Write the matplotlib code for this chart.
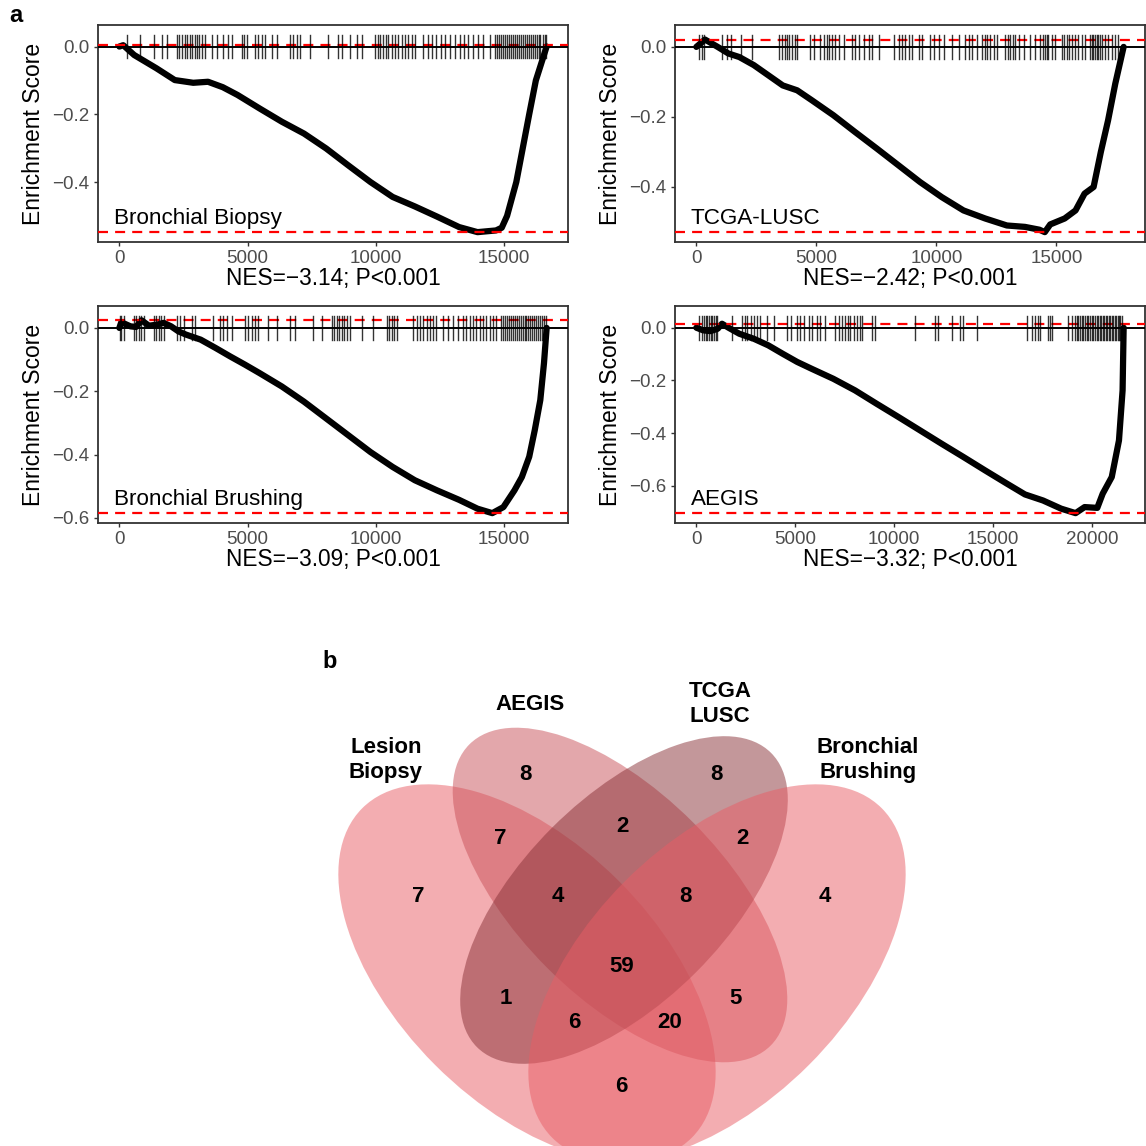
import matplotlib
matplotlib.use('Agg')
import matplotlib.pyplot as plt
from matplotlib.patches import Ellipse
from matplotlib.ticker import MultipleLocator, FuncFormatter

plt.rcParams['font.family'] = ['Liberation Sans', 'DejaVu Sans']

# ---- panel a: running enrichment scores ----
# Bronchial Biopsy
bb_n = 16650
bb_x = [0, 150, 577, 1441, 2160, 2879, 3455, 4030, 4606, 5469, 6332, 7196, 8059,
        8922, 9785, 10648, 11511, 12375, 13238, 13957, 14677, 14900, 15108, 15468,
        15971, 16230, 16650]
bb_es = [0.0, 0.004, -0.025, -0.064, -0.099, -0.107, -0.104, -0.120, -0.143, -0.183,
         -0.222, -0.257, -0.301, -0.351, -0.400, -0.444, -0.472, -0.502, -0.533,
         -0.548, -0.543, -0.535, -0.50, -0.40, -0.20, -0.10, 0.0]
bb_hits = [296, 815, 1333, 1658, 1852, 2241, 2332, 2436, 2540, 2630, 2734, 2825, 2929,
           3020, 3110, 3214, 3344, 3603, 3798, 4057, 4252, 4381, 4771, 4874, 4965,
           5289, 5419, 5549, 5679, 5938, 6133, 6651, 6781, 6911, 7040, 7429, 8143,
           8532, 8662, 8986, 9245, 9440, 9958, 10062, 10166, 10270, 10373, 10477,
           10607, 10737, 10866, 10996, 11126, 11255, 11385, 11515, 11839, 12034,
           12189, 12358, 12553, 12708, 12877, 13072, 13266, 13435, 13590, 13785,
           13979, 14174, 14433, 14630, 14700, 14790, 14860, 14940, 15020, 15100,
           15170, 15250, 15330, 15410, 15480, 15560, 15640, 15720, 15790, 15870,
           15950, 16030, 16100, 16180, 16260, 16340, 16410, 16490, 16570, 16630]

# TCGA-LUSC
tl_n = 17800
tl_x = [0, 360, 887, 1339, 1791, 2393, 2996, 3598, 4200, 4803, 5706, 6610, 7513, 8417,
        9320, 10224, 11128, 12031, 12935, 13688, 14290, 14516, 14742, 15344, 15796,
        16172, 16549, 16850, 17151, 17452, 17800]
tl_es = [0.0, 0.021, 0.0, -0.019, -0.029, -0.052, -0.081, -0.110, -0.124, -0.152,
         -0.195, -0.243, -0.290, -0.338, -0.386, -0.429, -0.467, -0.490, -0.510,
         -0.514, -0.522, -0.529, -0.507, -0.490, -0.467, -0.419, -0.400, -0.300,
         -0.210, -0.105, 0.0]
tl_hits = [108, 219, 316, 1079, 1287, 1426, 1842, 2327, 3437, 3575, 3686, 3783, 3880,
           3991, 4102, 4199, 4754, 4893, 5170, 5309, 5447, 5544, 5655, 5794, 5933,
           6141, 6488, 6626, 6765, 6973, 7181, 7319, 7597, 8221, 8429, 8567, 8706,
           8845, 8983, 9261, 9399, 9746, 9884, 10092, 10300, 10647, 10924, 11202,
           11341, 11479, 11687, 11895, 12006, 12103, 12242, 12381, 12519, 12866,
           12977, 13074, 13171, 13282, 13421, 13629, 13906, 14114, 14322, 14461,
           14530, 14599, 14669, 14807, 14946, 15223, 15334, 15431, 15528, 15639,
           15778, 15917, 16083, 16194, 16402, 16472, 16541, 16610, 16680, 16749,
           16818, 16888, 17026, 17165, 17304, 17443, 17581]

# Bronchial Brushing
br_n = 16650
br_x = [0, 74, 433, 649, 865, 1153, 1441, 1728, 2016, 2304, 2592, 3167, 3743, 4318,
        4894, 5469, 6332, 7196, 8059, 8922, 9785, 10648, 11511, 12375, 13238, 13957,
        14533, 14964, 15396, 15684, 15971, 16187, 16403, 16547, 16650]
br_es = [0.0, 0.018, 0.005, 0.003, 0.024, 0.007, 0.010, 0.016, 0.005, -0.011, -0.021,
         -0.037, -0.063, -0.090, -0.116, -0.143, -0.185, -0.233, -0.286, -0.339,
         -0.392, -0.439, -0.481, -0.513, -0.543, -0.571, -0.585, -0.566, -0.513,
         -0.471, -0.407, -0.323, -0.228, -0.111, 0.0]
br_hits = [10, 75, 166, 555, 646, 750, 854, 944, 1333, 1424, 1528, 1619, 1722, 2241,
           2371, 2501, 2825, 2955, 3668, 3928, 4057, 4187, 4381, 4900, 5030, 5160,
           5289, 5419, 5808, 6133, 6651, 6846, 7559, 7883, 8272, 8376, 8467, 8558,
           8662, 8765, 8856, 8986, 9440, 9894, 10413, 10504, 10607, 10711, 10802,
           11451, 11580, 11710, 11839, 11969, 12099, 12228, 12358, 12617, 12812,
           13007, 13201, 13396, 13525, 13655, 13785, 13914, 14044, 14174, 14304,
           14433, 14563, 14693, 14890, 14960, 15040, 15110, 15190, 15260, 15340,
           15410, 15490, 15560, 15640, 15710, 15790, 15860, 15940, 16010, 16090,
           16160, 16240, 16310, 16390, 16460, 16540, 16620]

# AEGIS
ae_n = 21600
ae_x = [0, 346, 711, 1077, 1296, 1625, 2173, 2904, 3635, 4366, 5098, 5829, 6925, 8022,
        9119, 10215, 11312, 12408, 13505, 14602, 15698, 16612, 17526, 18440, 19171,
        19628, 20268, 20542, 20999, 21364, 21547, 21600]
ae_es = [0.0, -0.010, -0.013, -0.004, 0.015, 0.0, -0.023, -0.042, -0.067, -0.099,
         -0.130, -0.156, -0.194, -0.238, -0.289, -0.339, -0.390, -0.441, -0.491,
         -0.542, -0.592, -0.633, -0.656, -0.687, -0.704, -0.681, -0.684, -0.630,
         -0.567, -0.428, -0.238, 0.0]
ae_hits = [132, 266, 384, 468, 552, 636, 720, 805, 889, 973, 1057, 1814, 2319, 2454,
           2571, 2740, 2908, 3076, 3194, 3581, 3918, 4591, 4759, 5096, 5264, 5432,
           5684, 5853, 6105, 6273, 6526, 7031, 7199, 7367, 7535, 7670, 7788, 7956,
           8124, 8293, 8377, 8882, 9050, 11069, 12079, 12213, 12920, 13341, 13458,
           14182, 16706, 16958, 17127, 17295, 17379, 17800, 17884, 17968, 18809,
           18978, 19146, 19230, 19310, 19400, 19480, 19560, 19650, 19730, 19820,
           19900, 19990, 20070, 20150, 20230, 20310, 20390, 20460, 20540, 20610,
           20690, 20760, 20840, 20910, 20990, 21060, 21140, 21210, 21290, 21360,
           21430, 21500]

names = ['Bronchial Biopsy', 'TCGA-LUSC', 'Bronchial Brushing', 'AEGIS']
nes = ['\u22123.14', '\u22122.42', '\u22123.09', '\u22123.32']

# ---- panel b: venn counts ----
venn_sets = ['Lesion\nBiopsy', 'AEGIS', 'TCGA\nLUSC', 'Bronchial\nBrushing']
venn_regions = ['A', 'B', 'C', 'D', 'AB', 'AC', 'AD', 'BC', 'BD', 'CD',
                'ABC', 'ABD', 'ACD', 'BCD', 'ABCD']
venn_counts = [7, 8, 8, 4, 7, 1, 6, 2, 5, 2, 4, 20, 6, 8, 59]

# layout (pixel coordinates of the 1146 px canvas)
region_pos = {'A': (418, 897), 'B': (525, 775), 'C': (716, 775), 'D': (825, 897),
              'AB': (500, 838), 'AC': (506, 998), 'AD': (621, 1087),
              'BC': (622, 826), 'BD': (736, 998), 'CD': (742, 838),
              'ABC': (558, 897), 'ABD': (670, 1023), 'ACD': (574, 1023),
              'BCD': (685, 897), 'ABCD': (622, 967)}
set_label_pos = [(386, 760), (530, 705), (720, 704), (868, 760)]
ellipses = [((527, 973), 466, 260, 45, (233/255, 93/255, 101/255)),
            ((620, 895), 426, 206, 45, (201/255, 81/255, 89/255)),
            ((624, 900), 416, 204, -45, (137/255, 49/255, 55/255)),
            ((717, 973), 466, 260, -45, (233/255, 93/255, 101/255))]

W = 1146.0
fig = plt.figure(figsize=(11.46, 11.46), dpi=100)

boxes = [(98, 25), (675, 25), (98, 306), (675, 306)]
bw, bh = 470, 217
panels = [(bb_n, bb_x, bb_es, bb_hits), (tl_n, tl_x, tl_es, tl_hits),
          (br_n, br_x, br_es, br_hits), (ae_n, ae_x, ae_es, ae_hits)]

grey20 = '#333333'
for (px, py), (n, xs, es, hits), name, nv in zip(boxes, panels, names, nes):
    ax = fig.add_axes([px / W, 1 - (py + bh) / W, bw / W, bh / W])
    top, bot = max(es), min(es)
    half = (top - bot) / 16
    ax.plot(xs, es, color='black', lw=4.5, solid_joinstyle='round',
            solid_capstyle='round', zorder=2)
    ax.axhline(top, color='red', ls=(0, (4.5, 3.2)), lw=1.6, zorder=3)
    ax.axhline(bot, color='red', ls=(0, (4.5, 3.2)), lw=1.6, zorder=3)
    ax.axhline(0, color='black', lw=1.4, zorder=3)
    for h in hits:
        ax.plot([h, h], [-half, half], color='black', lw=1.0, alpha=0.8, zorder=4)
    hi = max(top, half)
    pad = (hi - bot) * 0.05
    ax.set_ylim(bot - pad, hi + pad)
    ax.set_xlim(-0.05 * n, 1.05 * n)
    ax.xaxis.set_major_locator(MultipleLocator(5000))
    ax.yaxis.set_major_locator(MultipleLocator(0.2))
    ax.xaxis.set_major_formatter(FuncFormatter(lambda v, p: '%d' % round(v)))
    ax.yaxis.set_major_formatter(
        FuncFormatter(lambda v, p: ('%.1f' % (round(v, 1) + 0.0)).replace('-', '\u2212')))
    ax.tick_params(labelsize=13.5, colors=grey20, labelcolor='#4d4d4d',
                   length=3, width=1, pad=3)
    for s in ax.spines.values():
        s.set_color(grey20)
        s.set_linewidth(1.3)
    ax.set_ylabel('Enrichment Score', fontsize=16.5, labelpad=5)
    ax.set_xlabel('NES=%s; P<0.001' % nv, fontsize=16.3, labelpad=0)
    ax.text(0.034, 0.11, name, transform=ax.transAxes, fontsize=16.2, va='center')

fig.text(9 / W, 1 - 16 / W, 'a', fontsize=17, fontweight='bold', va='center')
fig.text(322 / W, 1 - 661 / W, 'b', fontsize=17, fontweight='bold', va='center')

# ---- venn ----
vax = fig.add_axes([0, 0, 1, 516 / W])
vax.set_xlim(0, W)
vax.set_ylim(W, W - 516)
vax.axis('off')
for (c, w, h, ang, col) in ellipses:
    vax.add_patch(Ellipse(c, w, h, angle=ang, facecolor=col, alpha=0.5,
                          edgecolor='none'))
for lab, (x, y) in zip(venn_sets, set_label_pos):
    vax.text(x, y, lab, ha='center', va='center', fontsize=16, fontweight='bold',
             linespacing=1.2)
for reg, cnt in zip(venn_regions, venn_counts):
    x, y = region_pos[reg]
    vax.text(x, y, str(cnt), ha='center', va='center', fontsize=16,
             fontweight='bold')

fig.savefig('out.png', dpi=100)
